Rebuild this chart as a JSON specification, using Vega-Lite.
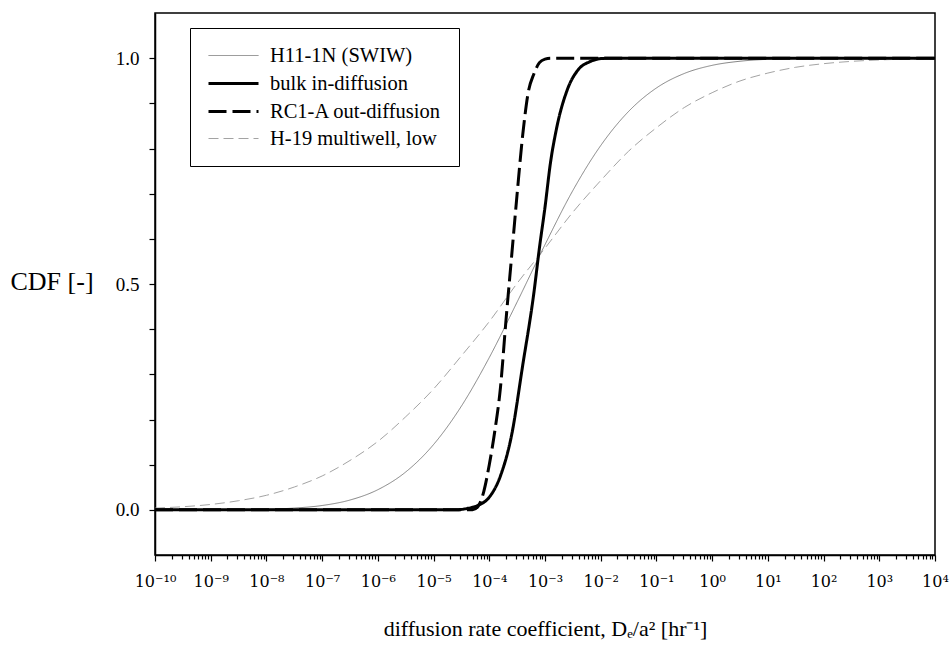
{
  "$schema": "https://vega.github.io/schema/vega-lite/v6.json",
  "width": 780,
  "height": 542,
  "autosize": {"type": "none"},
  "padding": {"left": 155, "top": 13, "right": 15, "bottom": 113},
  "background": "white",
  "config": {
    "font": "Liberation Serif",
    "view": {"stroke": "black", "strokeWidth": 1.5},
    "axis": {"grid": false, "domainColor": "black", "domainWidth": 1.5, "tickColor": "black", "tickWidth": 1.2, "labelColor": "black", "titleColor": "black", "labelFont": "Liberation Serif", "titleFont": "Liberation Serif", "titleFontWeight": "normal"},
    "legend": {
      "labelFont": "Liberation Serif",
      "orient": "none",
      "legendX": 35,
      "legendY": 15,
      "symbolType": "M-1,0H4",
      "symbolSize": 400,
      "labelFontSize": 20.5,
      "labelOffset": 40,
      "rowPadding": 6,
      "padding": 17,
      "strokeColor": "black",
      "fillColor": "white",
      "labelLimit": 300,
      "labelColor": "black"
    }
  },
  "data": {"values": [
    {"s": "H11-1N (SWIW)", "logx": -10, "cdf": 0.0},
    {"s": "H11-1N (SWIW)", "logx": -9, "cdf": 0.0001},
    {"s": "H11-1N (SWIW)", "logx": -8, "cdf": 0.0014},
    {"s": "H11-1N (SWIW)", "logx": -7.5, "cdf": 0.0039},
    {"s": "H11-1N (SWIW)", "logx": -7, "cdf": 0.0096},
    {"s": "H11-1N (SWIW)", "logx": -6.5, "cdf": 0.0217},
    {"s": "H11-1N (SWIW)", "logx": -6, "cdf": 0.0446},
    {"s": "H11-1N (SWIW)", "logx": -5.5, "cdf": 0.0838},
    {"s": "H11-1N (SWIW)", "logx": -5, "cdf": 0.1446},
    {"s": "H11-1N (SWIW)", "logx": -4.5, "cdf": 0.2297},
    {"s": "H11-1N (SWIW)", "logx": -4, "cdf": 0.3372},
    {"s": "H11-1N (SWIW)", "logx": -3.5, "cdf": 0.4602},
    {"s": "H11-1N (SWIW)", "logx": -3, "cdf": 0.5871},
    {"s": "H11-1N (SWIW)", "logx": -2.5, "cdf": 0.707},
    {"s": "H11-1N (SWIW)", "logx": -2, "cdf": 0.8065},
    {"s": "H11-1N (SWIW)", "logx": -1.5, "cdf": 0.882},
    {"s": "H11-1N (SWIW)", "logx": -1, "cdf": 0.934},
    {"s": "H11-1N (SWIW)", "logx": -0.5, "cdf": 0.9661},
    {"s": "H11-1N (SWIW)", "logx": 0, "cdf": 0.9841},
    {"s": "H11-1N (SWIW)", "logx": 0.5, "cdf": 0.9932},
    {"s": "H11-1N (SWIW)", "logx": 1, "cdf": 0.9974},
    {"s": "H11-1N (SWIW)", "logx": 2, "cdf": 0.9997},
    {"s": "H11-1N (SWIW)", "logx": 3, "cdf": 1.0},
    {"s": "H11-1N (SWIW)", "logx": 4, "cdf": 1.0},
    {"s": "H-19 multiwell, low", "logx": -10, "cdf": 0.0038},
    {"s": "H-19 multiwell, low", "logx": -9.5, "cdf": 0.0069},
    {"s": "H-19 multiwell, low", "logx": -9, "cdf": 0.0119},
    {"s": "H-19 multiwell, low", "logx": -8.5, "cdf": 0.0202},
    {"s": "H-19 multiwell, low", "logx": -8, "cdf": 0.0322},
    {"s": "H-19 multiwell, low", "logx": -7.5, "cdf": 0.0505},
    {"s": "H-19 multiwell, low", "logx": -7, "cdf": 0.075},
    {"s": "H-19 multiwell, low", "logx": -6.5, "cdf": 0.1093},
    {"s": "H-19 multiwell, low", "logx": -6, "cdf": 0.1515},
    {"s": "H-19 multiwell, low", "logx": -5.5, "cdf": 0.2061},
    {"s": "H-19 multiwell, low", "logx": -5, "cdf": 0.2676},
    {"s": "H-19 multiwell, low", "logx": -4.5, "cdf": 0.3409},
    {"s": "H-19 multiwell, low", "logx": -4, "cdf": 0.4168},
    {"s": "H-19 multiwell, low", "logx": -3.5, "cdf": 0.5016},
    {"s": "H-19 multiwell, low", "logx": -3, "cdf": 0.5793},
    {"s": "H-19 multiwell, low", "logx": -2.5, "cdf": 0.659},
    {"s": "H-19 multiwell, low", "logx": -2, "cdf": 0.729},
    {"s": "H-19 multiwell, low", "logx": -1.5, "cdf": 0.794},
    {"s": "H-19 multiwell, low", "logx": -1, "cdf": 0.846},
    {"s": "H-19 multiwell, low", "logx": -0.5, "cdf": 0.8907},
    {"s": "H-19 multiwell, low", "logx": 0, "cdf": 0.9236},
    {"s": "H-19 multiwell, low", "logx": 0.5, "cdf": 0.9495},
    {"s": "H-19 multiwell, low", "logx": 1, "cdf": 0.967},
    {"s": "H-19 multiwell, low", "logx": 1.5, "cdf": 0.9798},
    {"s": "H-19 multiwell, low", "logx": 2, "cdf": 0.9878},
    {"s": "H-19 multiwell, low", "logx": 2.5, "cdf": 0.9929},
    {"s": "H-19 multiwell, low", "logx": 3, "cdf": 0.9961},
    {"s": "H-19 multiwell, low", "logx": 3.5, "cdf": 0.9979},
    {"s": "H-19 multiwell, low", "logx": 4, "cdf": 0.9989},
    {"s": "RC1-A out-diffusion", "logx": -10, "cdf": 0.0},
    {"s": "RC1-A out-diffusion", "logx": -4.3, "cdf": 0.0},
    {"s": "RC1-A out-diffusion", "logx": -4.2, "cdf": 0.008},
    {"s": "RC1-A out-diffusion", "logx": -4.1, "cdf": 0.04},
    {"s": "RC1-A out-diffusion", "logx": -4.0, "cdf": 0.1},
    {"s": "RC1-A out-diffusion", "logx": -3.9, "cdf": 0.175},
    {"s": "RC1-A out-diffusion", "logx": -3.8, "cdf": 0.27},
    {"s": "RC1-A out-diffusion", "logx": -3.7, "cdf": 0.42},
    {"s": "RC1-A out-diffusion", "logx": -3.6, "cdf": 0.56},
    {"s": "RC1-A out-diffusion", "logx": -3.5, "cdf": 0.7},
    {"s": "RC1-A out-diffusion", "logx": -3.4, "cdf": 0.83},
    {"s": "RC1-A out-diffusion", "logx": -3.3, "cdf": 0.925},
    {"s": "RC1-A out-diffusion", "logx": -3.2, "cdf": 0.965},
    {"s": "RC1-A out-diffusion", "logx": -3.1, "cdf": 0.99},
    {"s": "RC1-A out-diffusion", "logx": -3.0, "cdf": 0.998},
    {"s": "RC1-A out-diffusion", "logx": -2.9, "cdf": 1.0},
    {"s": "RC1-A out-diffusion", "logx": 4, "cdf": 1.0},
    {"s": "bulk in-diffusion", "logx": -10, "cdf": 0.0},
    {"s": "bulk in-diffusion", "logx": -4.6, "cdf": 0.0},
    {"s": "bulk in-diffusion", "logx": -4.4, "cdf": 0.003},
    {"s": "bulk in-diffusion", "logx": -4.2, "cdf": 0.01},
    {"s": "bulk in-diffusion", "logx": -4.0, "cdf": 0.028},
    {"s": "bulk in-diffusion", "logx": -3.8, "cdf": 0.075},
    {"s": "bulk in-diffusion", "logx": -3.6, "cdf": 0.165},
    {"s": "bulk in-diffusion", "logx": -3.4, "cdf": 0.32},
    {"s": "bulk in-diffusion", "logx": -3.2, "cdf": 0.48},
    {"s": "bulk in-diffusion", "logx": -3.1, "cdf": 0.58},
    {"s": "bulk in-diffusion", "logx": -3.0, "cdf": 0.67},
    {"s": "bulk in-diffusion", "logx": -2.9, "cdf": 0.77},
    {"s": "bulk in-diffusion", "logx": -2.8, "cdf": 0.84},
    {"s": "bulk in-diffusion", "logx": -2.6, "cdf": 0.93},
    {"s": "bulk in-diffusion", "logx": -2.4, "cdf": 0.975},
    {"s": "bulk in-diffusion", "logx": -2.2, "cdf": 0.992},
    {"s": "bulk in-diffusion", "logx": -2.0, "cdf": 0.999},
    {"s": "bulk in-diffusion", "logx": -1.8, "cdf": 1.0},
    {"s": "bulk in-diffusion", "logx": 4, "cdf": 1.0}
  ]},
  "mark": {"type": "line", "interpolate": "monotone", "clip": true},
  "encoding": {
    "x": {
      "field": "logx", "type": "quantitative",
      "scale": {"domain": [-10, 4], "nice": false, "zero": false},
      "axis": {
        "title": "diffusion rate coefficient, Dₑ/a² [hr⁻¹]",
        "titleFontSize": 22,
        "titleY": 80,
        "titleBaseline": "alphabetic",
        "labelFont": "DejaVu Serif",
        "labelFontSize": 16,
        "labelPadding": 12,
        "labelFlush": false,
        "labelOverlap": false,
        "tickSize": {"condition": {"test": "abs(datum.value - round(datum.value)) < 0.001", "value": 6}, "value": 4},
        "values": [-10, -9.699, -9.5229, -9.3979, -9.301, -9.2218, -9.1549, -9.0969, -9.0458,
                   -9, -8.699, -8.5229, -8.3979, -8.301, -8.2218, -8.1549, -8.0969, -8.0458,
                   -8, -7.699, -7.5229, -7.3979, -7.301, -7.2218, -7.1549, -7.0969, -7.0458,
                   -7, -6.699, -6.5229, -6.3979, -6.301, -6.2218, -6.1549, -6.0969, -6.0458,
                   -6, -5.699, -5.5229, -5.3979, -5.301, -5.2218, -5.1549, -5.0969, -5.0458,
                   -5, -4.699, -4.5229, -4.3979, -4.301, -4.2218, -4.1549, -4.0969, -4.0458,
                   -4, -3.699, -3.5229, -3.3979, -3.301, -3.2218, -3.1549, -3.0969, -3.0458,
                   -3, -2.699, -2.5229, -2.3979, -2.301, -2.2218, -2.1549, -2.0969, -2.0458,
                   -2, -1.699, -1.5229, -1.3979, -1.301, -1.2218, -1.1549, -1.0969, -1.0458,
                   -1, -0.699, -0.5229, -0.3979, -0.301, -0.2218, -0.1549, -0.0969, -0.0458,
                   0, 0.301, 0.4771, 0.6021, 0.699, 0.7782, 0.8451, 0.9031, 0.9542,
                   1, 1.301, 1.4771, 1.6021, 1.699, 1.7782, 1.8451, 1.9031, 1.9542,
                   2, 2.301, 2.4771, 2.6021, 2.699, 2.7782, 2.8451, 2.9031, 2.9542,
                   3, 3.301, 3.4771, 3.6021, 3.699, 3.7782, 3.8451, 3.9031, 3.9542, 4],
        "labelExpr": "abs(datum.value - round(datum.value)) < 0.001 ? '10' + split('⁻¹⁰,⁻⁹,⁻⁸,⁻⁷,⁻⁶,⁻⁵,⁻⁴,⁻³,⁻²,⁻¹,⁰,¹,²,³,⁴', ',')[round(datum.value) + 10] : ''"
      }
    },
    "y": {
      "field": "cdf", "type": "quantitative",
      "scale": {"domain": [-0.1, 1.1], "nice": false, "zero": false},
      "axis": {
        "title": "CDF [-]",
        "titleAngle": 0,
        "titleFontSize": 26,
        "titleX": -145,
        "titleY": 268,
        "titleAlign": "left",
        "titleBaseline": "middle",
        "labelFontSize": 19,
        "labelPadding": 10,
        "tickSize": 6,
        "values": [0, 0.1, 0.2, 0.3, 0.4, 0.5, 0.6, 0.7, 0.8, 0.9, 1.0],
        "labelExpr": "(abs(datum.value) < 0.001 || abs(datum.value - 0.5) < 0.001 || abs(datum.value - 1) < 0.001) ? format(datum.value, '.1f') : ''"
      }
    },
    "color": {
      "field": "s", "type": "nominal",
      "scale": {"domain": ["H11-1N (SWIW)", "bulk in-diffusion", "RC1-A out-diffusion", "H-19 multiwell, low"], "range": ["#666666", "#000000", "#000000", "#999999"]},
      "legend": {"title": null}
    },
    "strokeDash": {
      "field": "s", "type": "nominal",
      "scale": {"domain": ["H11-1N (SWIW)", "bulk in-diffusion", "RC1-A out-diffusion", "H-19 multiwell, low"], "range": [[1, 0], [1, 0], [18, 6], [10, 5]]},
      "legend": {"title": null}
    },
    "strokeWidth": {
      "field": "s", "type": "nominal",
      "scale": {"type": "ordinal", "domain": ["H11-1N (SWIW)", "bulk in-diffusion", "RC1-A out-diffusion", "H-19 multiwell, low"], "range": [0.8, 3, 3, 0.9]},
      "legend": {"title": null}
    }
  }
}
